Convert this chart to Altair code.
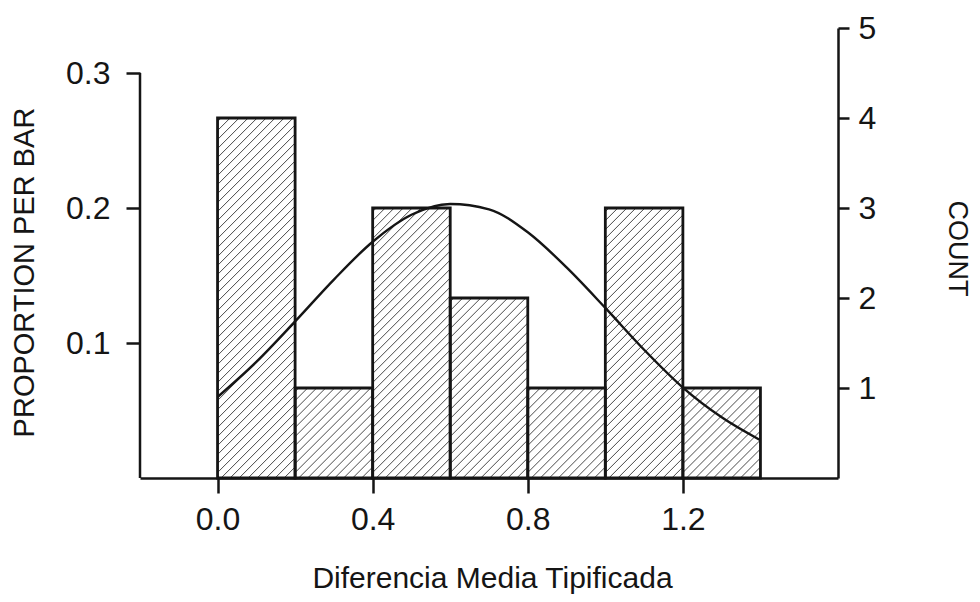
import altair as alt
import pandas as pd

# ---- data ----
bin_start = [0.0, 0.2, 0.4, 0.6, 0.8, 1.0, 1.2]
bin_end = [0.2, 0.4, 0.6, 0.8, 1.0, 1.2, 1.4]
counts = [4, 1, 3, 2, 1, 3, 1]

curve_x = [0.0, 0.1, 0.2, 0.3, 0.4, 0.5, 0.6, 0.7, 0.8, 0.9, 1.0, 1.1, 1.2, 1.3, 1.4]
curve_y = [0.060, 0.086, 0.116, 0.147, 0.175, 0.195, 0.203, 0.199, 0.182, 0.156, 0.126, 0.095, 0.067, 0.045, 0.028]

x_ticks = [0.0, 0.4, 0.8, 1.2]
prop_ticks = [0.1, 0.2, 0.3]
count_ticks = [1, 2, 3, 4, 5]

total = sum(counts)
X_DOM = [-0.2, 1.6]
Y_DOM = [0, 5 / total]
W, H = 698, 450
INK = "#151515"
FONT = "Liberation Sans"
FS = 32

bars = pd.DataFrame({
    "x0": bin_start, "x1": bin_end, "count": counts,
    "prop": [c / total for c in counts],
})
curve = pd.DataFrame({"x": curve_x, "y": curve_y})

# hatch segments (45 deg in screen space) clipped to each bar
kx = W / (X_DOM[1] - X_DOM[0])
ky = H / (Y_DOM[1] - Y_DOM[0])
step = 9.0
segs = []
for a, b, h in zip(bars.x0, bars.x1, bars.prop):
    wpx, hpx = (b - a) * kx, h * ky
    c = -wpx + 2
    while c < hpx:
        xs_ = max(0.0, -c)
        xe_ = min(wpx, hpx - c)
        if xe_ > xs_:
            segs.append({
                "xa": a + xs_ / kx, "xb": a + xe_ / kx,
                "ya": (xs_ + c) / ky, "yb": (xe_ + c) / ky,
            })
        c += step
hatch = pd.DataFrame(segs)

xs = alt.Scale(domain=X_DOM, nice=False, zero=False)
ys = alt.Scale(domain=Y_DOM, nice=False, zero=False)

x_axis = alt.Axis(
    values=x_ticks, format=".1f", title="Diferencia Media Tipificada",
    grid=False, domainColor=INK, domainWidth=2.5, tickColor=INK, tickWidth=2.5,
    tickSize=15, labelFontSize=FS, labelColor=INK, labelFont=FONT, labelPadding=11,
    titleFontSize=30, titleFont=FONT, titleFontWeight="normal", titleColor=INK,
    titleX=352, titleY=100, titleBaseline="middle", titleAnchor="middle",
)

prop_axis = alt.Axis(
    values=prop_ticks, format=".1f", title="PROPORTION PER BAR",
    grid=False, domain=False, tickColor=INK, tickWidth=2.5, tickSize=14,
    labelFontSize=FS, labelColor=INK, labelFont=FONT, labelPadding=16,
    titleFontSize=29, titleFont=FONT, titleFontWeight="normal", titleColor=INK,
    titleX=-116, titleY=244, titleAngle=-90, titleBaseline="middle",
    titleAnchor="middle",
)

count_axis = alt.Axis(
    orient="right", values=count_ticks, format="d", title="COUNT",
    grid=False, domainColor=INK, domainWidth=2.5, tickColor=INK, tickWidth=2.5,
    tickSize=11, labelFontSize=FS, labelColor=INK, labelFont=FONT, labelPadding=9,
    titleFontSize=27, titleFont=FONT, titleFontWeight="normal", titleColor=INK,
    titleX=118, titleY=220, titleAngle=90, titleBaseline="middle",
    titleAnchor="middle",
)

hatch_layer = alt.Chart(hatch).mark_rule(color="#4a4a4a", strokeWidth=1).encode(
    x=alt.X("xa:Q", scale=xs, axis=x_axis), x2="xb:Q",
    y=alt.Y("ya:Q", scale=ys, axis=prop_axis), y2="yb:Q",
)

bar_layer = alt.Chart(bars).mark_rect(fill="transparent", stroke=INK, strokeWidth=2.8).encode(
    x=alt.X("x0:Q", scale=xs, axis=x_axis), x2="x1:Q",
    y=alt.Y("prop:Q", scale=ys, axis=prop_axis),
    y2=alt.datum(0),
)

curve_layer = alt.Chart(curve).mark_line(color=INK, strokeWidth=2.4, interpolate="monotone").encode(
    x=alt.X("x:Q", scale=xs, axis=x_axis),
    y=alt.Y("y:Q", scale=ys, axis=prop_axis),
)

left_domain = alt.Chart(pd.DataFrame({"a": [0], "b": [0.3]})).mark_rule(
    color=INK, strokeWidth=2.5).encode(
    x=alt.value(0),
    y=alt.Y("a:Q", scale=ys, axis=prop_axis), y2="b:Q",
)

prop_layers = alt.layer(hatch_layer, bar_layer, curve_layer, left_domain)

count_layer = alt.Chart(bars).mark_point(opacity=0).encode(
    x=alt.X("x0:Q", scale=xs, axis=x_axis),
    y=alt.Y("count:Q", scale=alt.Scale(domain=[0, 5], nice=False), axis=count_axis),
)

chart = alt.layer(prop_layers, count_layer).resolve_scale(y="independent").properties(
    width=W, height=H,
    background="white",
    autosize=alt.AutoSizeParams(type="none"),
    padding={"left": 132, "top": 20, "right": 134, "bottom": 116},
).configure_view(stroke=None, strokeWidth=0)

chart.save("out.html", embed_options={"renderer": "svg", "actions": False})
